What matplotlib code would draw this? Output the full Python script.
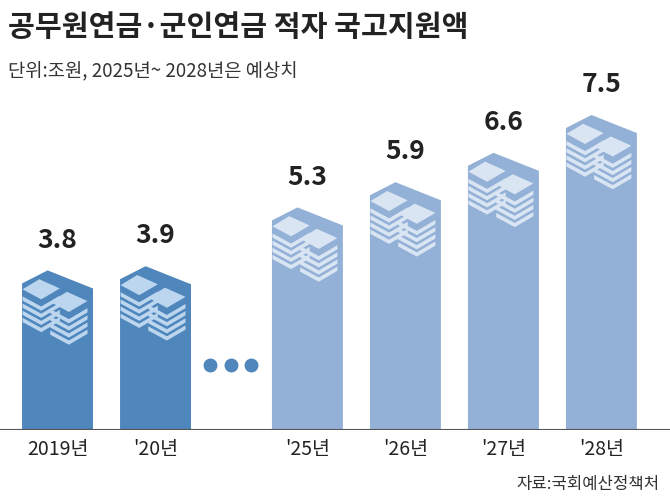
import matplotlib
matplotlib.use("Agg")
import matplotlib.pyplot as plt
from matplotlib.patches import Polygon

plt.rcParams["font.family"] = ["Noto Sans CJK JP", "Noto Sans CJK KR", "Noto Sans CJK SC", "DejaVu Sans"]

categories = ["2019년", "'20년", "'25년", "'26년", "'27년", "'28년"]
values = [3.8, 3.9, 5.3, 5.9, 6.6, 7.5]
is_forecast = [False, False, True, True, True, True]
positions = [0, 1, 2.55, 3.55, 4.55, 5.55]

dark, dark_icon = "#4f86bb", "#bcd6ef"
light, light_icon = "#93b0d6", "#d9e5f3"

fig = plt.figure(figsize=(6.7, 5.0), dpi=100)
ax = fig.add_axes([0, 70/500, 1, 430/500])
ax.set_xlim(-0.587, 6.25)
ax.set_ylim(0, 430/42)
ax.axis("off")

w = 0.724
a, b = 0.31, 0.43
for x, v, f in zip(positions, values, is_forecast):
    c, ic = (light, light_icon) if f else (dark, dark_icon)
    x0, x1 = x - w/2, x + w/2
    xp = x0 + 0.36*w
    ax.add_patch(Polygon([(x0, 0), (x0, v-a), (xp, v), (x1, v-b), (x1, 0)],
                         closed=True, fc=c, ec="none"))
    for (cx, cy) in [(x0 + 0.27*w, v - 0.45), (x0 + 0.66*w, v - 0.75)]:
        hw, hh = 0.19, 0.24
        for k in range(4, 0, -1):
            dy = -k*0.17
            ax.add_patch(Polygon([(cx-hw, cy+dy), (cx, cy+dy-hh), (cx+hw, cy+dy+0.02),
                                  (cx+hw, cy+dy-0.08), (cx, cy+dy-hh-0.1), (cx-hw, cy+dy-0.1)],
                                 closed=True, fc=ic, ec="none"))
        ax.add_patch(Polygon([(cx-hw, cy), (cx-0.02, cy+hh), (cx+hw, cy+0.02), (cx, cy-hh)],
                             closed=True, fc=ic, ec="none"))
    ax.text(x, v + 0.4, f"{v:.1f}", ha="center", va="bottom", fontsize=19,
            fontweight="bold", color="#222222")

for dx in [1.56, 1.77, 1.97]:
    ax.plot(dx, 1.55, "o", ms=9, color=dark)

ax.axhline(0, color="#555555", lw=1.5)

for x, lab in zip(positions, categories):
    fig.text((x + 0.587)/6.837, 1 - 450/500, lab, ha="center", va="center",
             fontsize=14, color="#222222")

fig.text(0.012, 1 - 27/500, "공무원연금·군인연금 적자 국고지원액", ha="left", va="center",
         fontsize=21, fontweight="bold", color="#222222")
fig.text(0.012, 1 - 72/500, "단위:조원, 2025년~ 2028년은 예상치", ha="left", va="center",
         fontsize=13.5, color="#333333")
fig.text(0.985, 1 - 485/500, "자료:국회예산정책처", ha="right", va="center",
         fontsize=12, color="#333333")

fig.savefig("out.png", dpi=100)
